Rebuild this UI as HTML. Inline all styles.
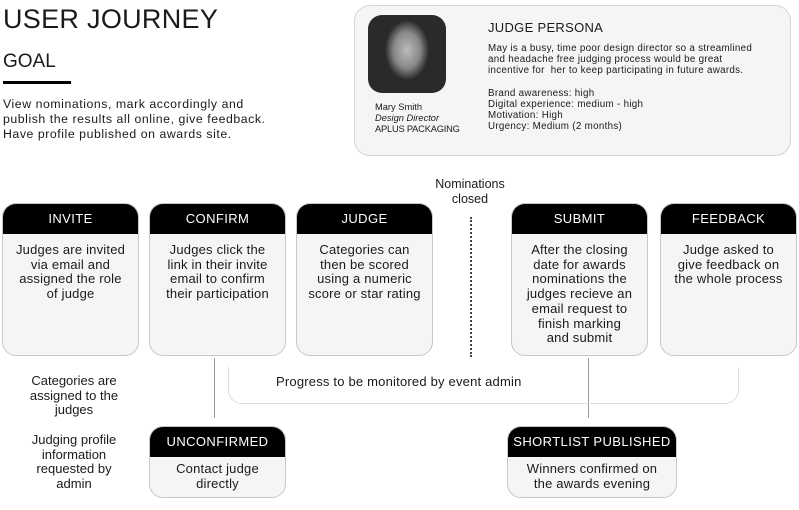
<!DOCTYPE html>
<html><head><style>
*{margin:0;padding:0;box-sizing:border-box}
body{width:799px;height:510px;background:#fff;font-family:"Liberation Sans",sans-serif;color:#1a1a1a;position:relative;overflow:hidden}
.a{position:absolute}
.box{position:absolute;border:1.5px solid #c8c8c8;border-radius:14px;background:#f5f5f5;overflow:hidden}
.hd{background:#000;color:#fff;font-size:13px;text-align:center;height:30px;line-height:30px;letter-spacing:.4px}
.bd{font-size:13px;line-height:14.7px;text-align:center;padding-top:9px;letter-spacing:.2px;white-space:nowrap}
.c{text-align:center;font-size:12.5px;line-height:14.7px}
</style></head><body>
<div class="a" style="left:3px;top:4px;font-size:27px;letter-spacing:.3px">USER JOURNEY</div>
<div class="a" style="left:3px;top:51px;font-size:19px">GOAL</div>
<div class="a" style="left:3px;top:81px;width:68px;height:3px;background:#000"></div>
<div class="a" style="left:3px;top:97px;font-size:12.3px;line-height:15px;letter-spacing:.55px">View nominations, mark accordingly and<br>publish the results all online, give feedback.<br>Have profile published on awards site.</div>

<div class="box" style="left:354px;top:5px;width:437px;height:151px;border-radius:16px;border-color:#d5d5d5"></div>
<div class="a" style="left:368px;top:15px;width:78px;height:78px;border-radius:14px;background:radial-gradient(ellipse 22px 30px at 50% 45%,#bbb,#888 60%,#2a2a2a 100%),#2a2a2a"></div>
<div class="a" style="left:375px;top:102px;font-size:9.3px;line-height:11px">Mary Smith<br><i>Design Director</i><br><span style="letter-spacing:-.2px">APLUS PACKAGING</span></div>
<div class="a" style="left:488px;top:20px;font-size:13px;letter-spacing:.3px">JUDGE PERSONA</div>
<div class="a" style="left:488px;top:43px;font-size:9.8px;line-height:11.2px;letter-spacing:.3px;white-space:nowrap">May is a busy, time poor design director so a streamlined<br>and headache free judging process would be great<br>incentive for &nbsp;her to keep participating in future awards.<br><br>Brand awareness: high<br>Digital experience: medium - high<br>Motivation: High<br>Urgency: Medium (2 months)</div>

<div class="a c" style="left:420px;top:177px;width:100px">Nominations<br>closed</div>
<div class="a" style="left:470px;top:217px;height:140px;border-left:2px dotted #444"></div>

<div class="box" style="left:2px;top:203px;width:137px;height:153px"><div class="hd">INVITE</div><div class="bd">Judges are invited<br>via email and<br>assigned the role<br>of judge</div></div>
<div class="box" style="left:149px;top:203px;width:137px;height:153px"><div class="hd">CONFIRM</div><div class="bd">Judges click the<br>link in their invite<br>email to confirm<br>their participation</div></div>
<div class="box" style="left:296px;top:203px;width:137px;height:153px"><div class="hd">JUDGE</div><div class="bd">Categories can<br>then be scored<br>using a numeric<br>score or star rating</div></div>
<div class="box" style="left:511px;top:203px;width:137px;height:153px"><div class="hd">SUBMIT</div><div class="bd">After the closing<br>date for awards<br>nominations the<br>judges recieve an<br>email request to<br>finish marking<br>and submit</div></div>
<div class="box" style="left:660px;top:203px;width:137px;height:153px"><div class="hd">FEEDBACK</div><div class="bd">Judge asked to<br>give feedback on<br>the whole process</div></div>

<div class="a" style="left:214px;top:358px;height:60px;border-left:1.5px solid #999"></div>
<div class="a" style="left:588px;top:358px;height:60px;border-left:1.5px solid #999"></div>
<div class="a" style="left:228px;top:367px;width:511px;height:37px;border:1.5px solid #ddd;border-top:none;border-radius:0 0 14px 14px"></div>
<div class="a" style="left:276px;top:374px;font-size:13px;letter-spacing:.2px">Progress to be monitored by event admin</div>

<div class="a c" style="left:10px;top:374px;width:128px;font-size:13px">Categories are<br>assigned to the<br>judges</div>
<div class="a c" style="left:10px;top:433px;width:128px;font-size:13px">Judging profile<br>information<br>requested by<br>admin</div>

<div class="box" style="left:149px;top:426px;width:137px;height:72px"><div class="hd">UNCONFIRMED</div><div class="bd" style="padding-top:5px">Contact judge<br>directly</div></div>
<div class="box" style="left:507px;top:426px;width:170px;height:72px"><div class="hd">SHORTLIST PUBLISHED</div><div class="bd" style="padding-top:5px">Winners confirmed on<br>the awards evening</div></div>
</body></html>
